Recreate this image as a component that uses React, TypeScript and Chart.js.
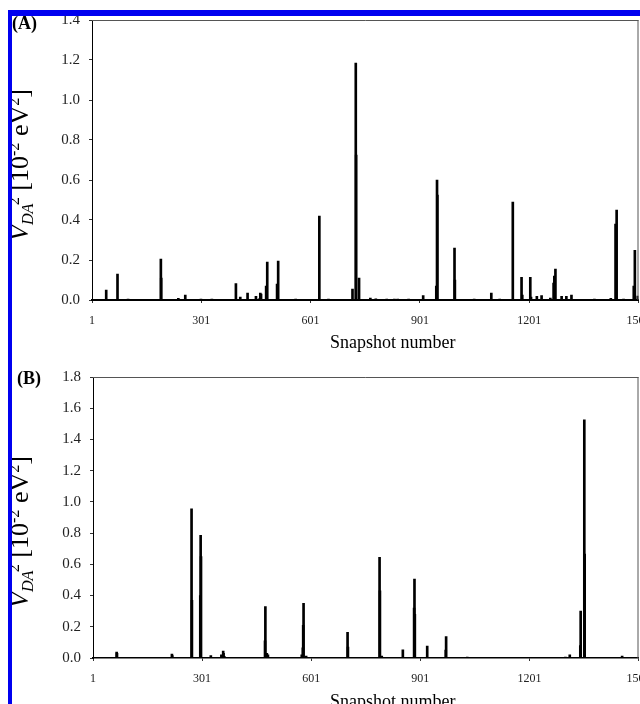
import React, { useEffect, useRef } from "react";
import { Chart, registerables } from "chart.js";

Chart.register(...registerables);

const FONT = "'Liberation Serif', 'Times New Roman', Times, serif";

// Tick labels
const xTicks = [1, 301, 601, 901, 1201, 1501];
const yTicksA = [0, 0.2, 0.4, 0.6, 0.8, 1.0, 1.2, 1.4];
const yTicksB = [0, 0.2, 0.4, 0.6, 0.8, 1.0, 1.2, 1.4, 1.6, 1.8];

// Panel (A): snapshot numbers and V_DA^2 values (10^-2 eV^2)
const snapshotsA = [
  40, 71, 100, 190, 191, 238, 257, 300, 330, 396, 408, 428, 451, 460, 463, 465, 479, 482,
  509, 512, 560, 625, 650, 716, 725, 726, 734, 765, 780, 810, 831, 840, 870, 910, 946,
  948, 949, 996, 997, 1050, 1097, 1120, 1156, 1180, 1182, 1204, 1206, 1222, 1235, 1259,
  1268, 1270, 1273, 1290, 1303, 1317, 1380, 1425, 1438, 1441, 1460, 1488, 1491, 1499,
];
const couplingA = [
  0.05, 0.13, 0.005, 0.205, 0.11, 0.008, 0.024, 0.005, 0.004, 0.082, 0.015, 0.035, 0.018, 0.006, 0.035, 0.03, 0.07, 0.19,
  0.08, 0.195, 0.005, 0.42, 0.005, 0.055, 1.185, 0.725, 0.11, 0.01, 0.006, 0.004, 0.005, 0.005, 0.004, 0.022, 0.07,
  0.6, 0.525, 0.26, 0.1, 0.005, 0.035, 0.005, 0.49, 0.113, 0.025, 0.113, 0.015, 0.018, 0.022, 0.01,
  0.085, 0.12, 0.155, 0.018, 0.018, 0.025, 0.005, 0.008, 0.38, 0.45, 0.005, 0.07, 0.248, 0.02,
];

// Panel (B)
const snapshotsB = [
  40, 66, 67, 110, 125, 190, 218, 219, 272, 273, 296, 297, 298, 325, 354, 359, 360, 362,
  400, 430, 474, 475, 479, 482, 520, 575, 578, 579, 580, 587, 620, 640, 701, 702, 720,
  750, 789, 790, 795, 853, 884, 885, 886, 920, 971, 972, 1010, 1030, 1060, 1150, 1200,
  1260, 1285, 1300, 1312, 1341, 1342, 1352, 1353, 1400, 1430, 1456,
];
const couplingB = [
  0.005, 0.038, 0.03, 0.005, 0.004, 0.005, 0.025, 0.015, 0.956, 0.37, 0.4, 0.785, 0.65, 0.015, 0.02, 0.045, 0.03, 0.01,
  0.005, 0.004, 0.11, 0.33, 0.03, 0.02, 0.005, 0.02, 0.065, 0.21, 0.35, 0.012, 0.005, 0.004, 0.165, 0.07, 0.004,
  0.004, 0.645, 0.43, 0.012, 0.053, 0.32, 0.506, 0.28, 0.077, 0.05, 0.137, 0.005, 0.006, 0.005, 0.004, 0.004,
  0.005, 0.005, 0.006, 0.02, 0.08, 0.3, 1.525, 0.666, 0.004, 0.005, 0.012,
];

const CANVAS_W = 700;

const framePlugin = {
  id: "frame",
  afterDraw(chart: any) {
    const { ctx, chartArea: a } = chart;
    ctx.save();
    ctx.strokeStyle = "#555";
    ctx.lineWidth = 1;
    ctx.beginPath();
    ctx.moveTo(a.left, a.top + 0.5);
    ctx.lineTo(a.right, a.top + 0.5);
    ctx.moveTo(a.right - 0.5, a.top);
    ctx.lineTo(a.right - 0.5, a.bottom);
    ctx.stroke();
    ctx.restore();
  },
};

type PanelProps = {
  snaps: number[];
  vals: number[];
  yTicks: number[];
  top: number;
  height: number;
  left: number;
  right: number;
  areaTop: number;
  areaBottom: number;
  baseWidth: number;
};

function Panel(p: PanelProps) {
  const ref = useRef<HTMLCanvasElement>(null);
  useEffect(() => {
    if (!ref.current) return;
    const data = p.snaps.map((s, i) => ({ x: s, y: p.vals[i] }));
    const yMax = p.yTicks[p.yTicks.length - 1];
    const chart = new Chart(ref.current, {
      type: "bar",
      data: {
        datasets: [
          {
            data,
            backgroundColor: "#000",
            borderWidth: 0,
            barThickness: 2,
          } as any,
        ],
      },
      options: {
        responsive: false,
        animation: false,
        layout: {
          padding: {
            left: 0,
            top: p.areaTop,
            right: CANVAS_W - p.right,
            bottom: 0,
          },
        },
        plugins: {
          legend: { display: false },
          tooltip: { enabled: false },
        },
        scales: {
          x: {
            type: "linear",
            min: 1,
            max: 1501,
            offset: false,
            afterBuildTicks: (s: any) => {
              s.ticks = xTicks.map((v) => ({ value: v }));
            },
            afterFit: (s: any) => {
              s.height = p.height - p.areaBottom;
            },
            grid: {
              offset: false,
              drawOnChartArea: false,
              drawTicks: true,
              tickLength: 3,
              color: "#333",
            },
            border: { display: true, color: "#000", width: p.baseWidth },
            ticks: {
              autoSkip: false,
              maxRotation: 0,
              padding: 11,
              color: "#222",
              font: { family: FONT, size: 12 },
              callback: (v: any) => String(v),
            },
          },
          y: {
            type: "linear",
            min: 0,
            max: yMax,
            afterBuildTicks: (s: any) => {
              s.ticks = p.yTicks.map((v) => ({ value: v }));
            },
            afterFit: (s: any) => {
              s.width = p.left;
            },
            grid: {
              drawOnChartArea: false,
              drawTicks: true,
              tickLength: 3,
              color: "#333",
            },
            border: { display: true, color: "#000", width: 1 },
            ticks: {
              padding: 9,
              color: "#222",
              font: { family: FONT, size: 15 },
              callback: (v: any) => Number(v).toFixed(1),
            },
          },
        },
      } as any,
      plugins: [framePlugin],
    });
    return () => chart.destroy();
  }, []);
  return (
    <canvas
      ref={ref}
      width={CANVAS_W}
      height={p.height}
      style={{ position: "absolute", left: 0, top: p.top, width: CANVAS_W, height: p.height }}
    />
  );
}

function YTitle({ cx, cy }: { cx: number; cy: number }) {
  const small: React.CSSProperties = { fontSize: "0.62em", position: "relative", verticalAlign: "baseline" };
  return (
    <div
      style={{
        position: "absolute",
        left: cx,
        top: cy,
        transform: "translate(-50%, -50%) rotate(-90deg)",
        whiteSpace: "nowrap",
        fontFamily: FONT,
        fontSize: 26,
        lineHeight: 1,
        color: "#000",
      }}
    >
      <i>V</i>
      <i style={{ ...small, top: "0.3em" }}>DA</i>
      <span style={{ ...small, top: "-0.55em", marginLeft: "-0.1em" }}>2</span>
      {" [10"}
      <span style={{ ...small, top: "-0.55em" }}>-2</span>
      {" eV"}
      <span style={{ ...small, top: "-0.55em" }}>2</span>
      {"]"}
    </div>
  );
}

const textStyle: React.CSSProperties = {
  position: "absolute",
  fontFamily: FONT,
  lineHeight: 1,
  color: "#000",
  whiteSpace: "nowrap",
};

export default function App() {
  return (
    <div
      style={{
        position: "fixed",
        left: 0,
        top: 0,
        width: 640,
        height: 704,
        overflow: "hidden",
        background: "#fff",
      }}
    >
      <Panel
        snaps={snapshotsA}
        vals={couplingA}
        yTicks={yTicksA}
        top={0}
        height={360}
        left={92}
        right={638.5}
        areaTop={20}
        areaBottom={300}
        baseWidth={2}
      />
      <Panel
        snaps={snapshotsB}
        vals={couplingB}
        yTicks={yTicksB}
        top={340}
        height={364}
        left={93}
        right={638.5}
        areaTop={37}
        areaBottom={318}
        baseWidth={1.5}
      />
      <YTitle cx={20} cy={165} />
      <YTitle cx={20} cy={532} />
      <div style={{ ...textStyle, left: 12, top: 14, fontSize: 18, fontWeight: "bold" }}>(A)</div>
      <div style={{ ...textStyle, left: 17, top: 369, fontSize: 18, fontWeight: "bold" }}>(B)</div>
      <div style={{ ...textStyle, left: 330, top: 333, fontSize: 18 }}>Snapshot number</div>
      <div style={{ ...textStyle, left: 330, top: 692, fontSize: 18 }}>Snapshot number</div>
      <div style={{ position: "absolute", left: 8, top: 10, width: 632, height: 6, background: "#0000f0", zIndex: 10 }} />
      <div style={{ position: "absolute", left: 8, top: 10, width: 4, height: 694, background: "#0000f0", zIndex: 10 }} />
    </div>
  );
}
